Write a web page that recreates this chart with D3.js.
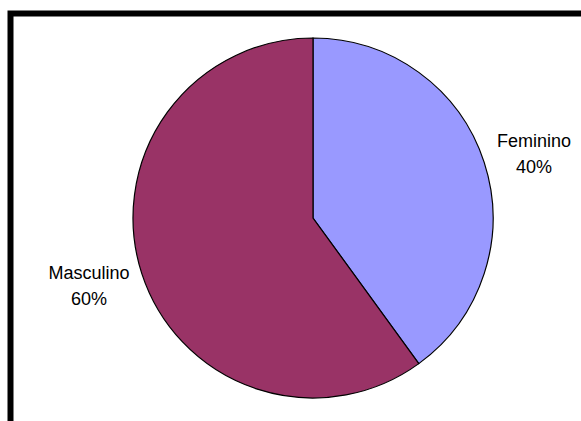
<!DOCTYPE html>
<html lang="pt">
<head>
  <meta charset="UTF-8">
  <title>Sexo</title>
  <style>
    body { margin: 0; background: #ffffff; }
    svg { display: block; }
    text { font-family: "Liberation Sans", Arial, sans-serif; font-size: 18px; fill: #000; }
  </style>
  <script type="text/javascript" src="https://d3js.org/d3.v7.min.js"></script>
</head>
<body>
<script type="text/javascript">

  var categories = ["Feminino", "Masculino"];
  var values = [40, 60];
  var labels = ["40%", "60%"];
  var colors = ["#9999FF", "#993366"];

  var width = 581, height = 421;

  var svg = d3.select("body")
    .append("svg")
    .attr("width", width)
    .attr("height", height);

  // outer frame, cut off on the right and at the bottom
  svg.append("rect")
    .attr("x", 10.5)
    .attr("y", 13.5)
    .attr("width", 700)
    .attr("height", 600)
    .attr("fill", "none")
    .attr("stroke", "#000")
    .attr("stroke-width", 6);

  var cx = 313, cy = 218, r = 180;

  var pie = d3.pie().sort(null).value(function(d) { return d; });
  var arcs = pie(values);

  var arc = d3.arc().innerRadius(0).outerRadius(r);

  var g = svg.append("g")
    .attr("transform", "translate(" + cx + "," + cy + ")");

  g.selectAll("path")
    .data(arcs)
    .enter()
    .append("path")
    .attr("d", arc)
    .attr("fill", function(d, i) { return colors[i]; })
    .attr("stroke", "#000")
    .attr("stroke-width", 1.2);

  // label positions, relative to the pie centre
  var labelPos = [[221, -71], [-224, 61]];

  var lbl = g.selectAll("g.lbl")
    .data(arcs)
    .enter()
    .append("g")
    .attr("class", "lbl")
    .attr("transform", function(d, i) { return "translate(" + labelPos[i][0] + "," + labelPos[i][1] + ")"; });

  lbl.append("text")
    .attr("text-anchor", "middle")
    .text(function(d, i) { return categories[i]; });

  lbl.append("text")
    .attr("text-anchor", "middle")
    .attr("y", 26)
    .text(function(d, i) { return labels[i]; });

</script>
</body>
</html>
